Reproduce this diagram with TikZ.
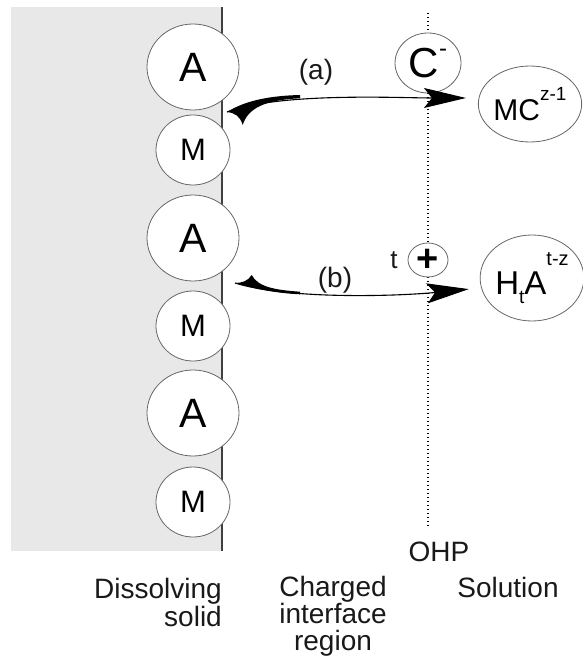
\documentclass[tikz,border=0pt]{standalone}
\usepackage{fontspec}
\setmainfont{Liberation Sans}
\usetikzlibrary{shapes.geometric,arrows.meta}
\tikzset{
  atom/.style={ellipse, draw=black!60, line width=0.8pt, fill=white, inner sep=0pt},
  bigA/.style={atom, minimum width=92pt, minimum height=86pt, font=\fontsize{41}{41}\selectfont},
  smallM/.style={atom, minimum width=74pt, minimum height=70pt, font=\fontsize{31}{31}\selectfont},
  lbl/.style={font=\fontsize{28}{28}\selectfont, inner sep=0pt, text=black!90},
  react/.style={line width=1.1pt, -{Stealth[length=42pt, width=20pt, inset=8pt]}},
  tail/.style={fill=black}
}
\begin{document}
\begin{tikzpicture}[x=1pt,y=-1pt]
\useasboundingbox (0,0) rectangle (582,658);
% Dissolving solid
\fill[black!9] (11,7) rectangle (222,551);
\draw[black!75, line width=1.2pt] (222,7) -- (222,551);
\foreach \n/\y in {a1/67, a2/238, a3/413}
  \node[bigA] (\n) at (193,\y) {A};
\foreach \n/\y in {m1/150, m2/326, m3/502}
  \node[smallM] (\n) at (193,\y) {M};

% OHP
\coordinate (ohptop) at (428,13);
\coordinate (ohpbot) at (428,526);
\draw[line width=1.2pt, dash pattern=on 1.2pt off 2.8pt] (ohptop) -- (ohpbot);
\node[atom, minimum width=66pt, minimum height=60pt, font=\fontsize{42}{42}\selectfont] (cion) at (428,63)
  {C\raisebox{21pt}{\fontsize{24}{24}\selectfont -}};
\node[atom, minimum width=40pt, minimum height=34pt, font=\fontsize{38}{38}\selectfont\bfseries] (plus) at (428,260) {+};
\node[lbl, font=\fontsize{26}{26}\selectfont] (tnum) at (394,260) {t};

% Solution species
\node[atom, minimum width=80pt, minimum height=76pt, font=\fontsize{30}{30}\selectfont] (mc) at (530,104)
  {MC\raisebox{20pt}{\fontsize{19}{19}\selectfont z-1}};
\node[atom, minimum width=94pt, minimum height=86pt, font=\fontsize{33}{33}\selectfont] (hta) at (532,278)
  {H\raisebox{-9pt}{\fontsize{19}{19}\selectfont t}A\raisebox{29pt}{\fontsize{20}{20}\selectfont t-z}};

% Reaction (a)
\coordinate (tailA) at (227,112);
\draw[react, shorten >=12pt] (tailA) .. controls (280,92) and (400,98) .. ([yshift=6pt]mc.west);
\fill[tail] (tailA) .. controls (240,104) and (260,96) .. (300,95) -- (300,98.3)
  .. controls (265,100) and (248,108) .. (242.7,125) .. controls (240,116) and (235,113) .. cycle;
\node[lbl] (la) at (316,72) {(a)};

% Reaction (b)
\coordinate (tailB) at (235,283);
\draw[react, shorten >=11pt] (tailB) .. controls (290,300) and (400,296) .. ([yshift=-10pt]hta.west);
\fill[tail] (tailB) .. controls (255,289) and (275,293) .. (300,294.3) -- (300,291.7)
  .. controls (275,290) and (258,287) .. (251.7,275) .. controls (248,281) and (242,283) .. cycle;
\node[lbl] (lb) at (335,280) {(b)};

% Region labels
\node[lbl] (ohp) at (439,552) {OHP};
\node[lbl, align=right, anchor=north east] (solid) at (222,578) {Dissolving\\solid};
\node[lbl, font=\fontsize{28}{27}\selectfont, align=center, anchor=north] (iface) at (333,576) {Charged\\interface\\region};
\node[lbl] (soln) at (508,587) {Solution};
\end{tikzpicture}
\end{document}
